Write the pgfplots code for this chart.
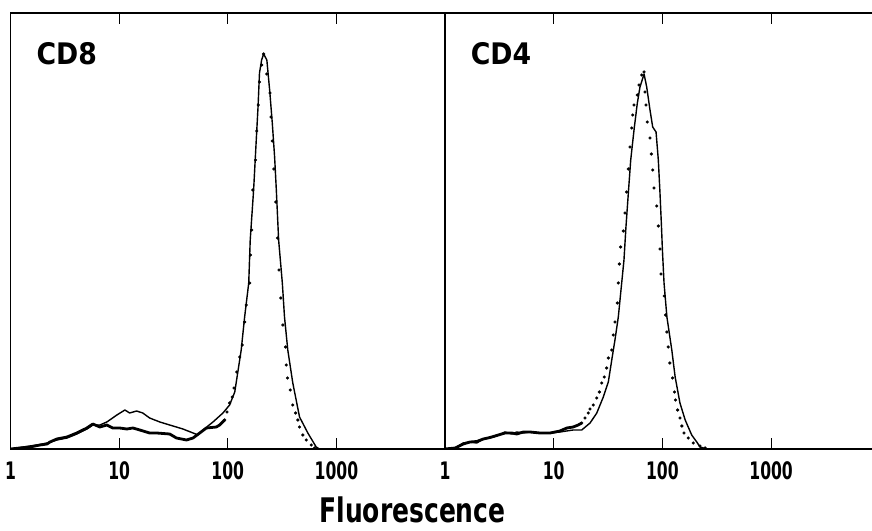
\documentclass[border=0pt]{standalone}
\usepackage{fontspec}
\setmainfont{DejaVu Sans Condensed}
\newfontfamily\tickfont[FakeStretch=0.72]{DejaVu Sans Condensed}
\newfontfamily\labfont[FakeStretch=0.82]{DejaVu Sans Condensed}
\usepackage{pgfplots}
\pgfplotsset{compat=1.18}

\tikzset{
  smpl/.style={black, line width=1.4bp, line join=round},
  ctrlline/.style={black, line width=2.8bp, line join=round},
  ctrldots/.style={black, only marks, mark=*, mark size=1.4bp},
}

\begin{document}
\begin{tikzpicture}
\useasboundingbox (0,0) rectangle (872bp,531bp);

% CD8
\begin{axis}[at={(10.5bp,82bp)}, anchor=south west,
  xmode=log, scale only axis, width=434.5bp, height=436bp,
  xmin=1, xmax=10000, ymin=0, ymax=436,
  ytick=\empty, xtick={1,10,100,1000}, xticklabels={1,10,100,1000},
  xminorticks=false,
  tick align=inside, major tick length=11bp,
  tick style={black, line width=1.2bp},
  axis line style={line width=1.5bp},
  xticklabel style={font=\tickfont\bfseries\fontsize{24.2}{24.2}\selectfont,
    anchor=base, inner sep=0pt, yshift=-30.3bp}]
\addplot[smpl] coordinates {
(1,0) (1.22,1.5) (1.51,3) (1.87,4.5) (2.17,6) (2.67,9) (3.31,11) (4.08,15)
(5.05,20) (5.73,24) (6.65,24) (7.71,27) (9.53,34) (11.3,39) (12.5,36)
(14.5,38) (16.5,36) (19.1,31) (23.7,27) (29.2,24) (38.7,20) (47.9,16)
(53.2,14) (59.2,19) (73.1,27) (90.3,36) (104,44) (116,57) (133,99)
(143,132) (156,166) (161,209) (173,259) (183,309) (190,342) (196,376)
(205,389) (214,395) (229,389) (243,359) (257,326) (270,292) (280,259)
(294,209) (318,166) (333,132) (357,99) (397,66) (458,32) (546,16)
(652,2) (699,0)
};
\addplot[ctrlline] coordinates {
(1,0) (1.22,1) (1.51,2) (1.87,4) (2.17,5) (2.31,7) (2.67,10) (3.31,12)
(4.08,16) (5.05,21) (5.73,25) (6.65,22) (7.71,24) (8.75,21) (10.1,21)
(11.8,20) (13.4,21) (15.5,19) (19.1,16) (22.1,16) (29.2,15) (33.7,11)
(41.7,9) (47.9,11) (55.2,16) (63.6,21) (78.5,22) (84.2,24) (93.6,29)
};
\addplot[ctrldots] coordinates {
(93.6,29) (98.5,37) (104,46) (110,52) (114,61) (121,77) (129,92) (136,104)
(143,127) (148,144) (159,166) (162,194) (166,219) (170,259) (180,289)
(185,318) (191,344) (196,367) (205,384) (214,395) (229,375) (245,356)
(250,332) (257,308) (266,280) (277,247) (288,211) (296,179) (308,151)
(322,124) (341,102) (346,84) (355,71) (376,59) (397,44) (421,36) (442,29)
(458,22) (491,14) (528,9) (587,4) (629,1)
};
\end{axis}

% CD4
\begin{axis}[at={(445bp,82bp)}, anchor=south west,
  xmode=log, scale only axis, width=427bp, height=436bp,
  xmin=1, xmax=8476, ymin=0, ymax=436,
  axis x line*=box, axis y line*=left,
  ytick=\empty, xtick={1,10,100,1000}, xticklabels={1,10,100,1000},
  xminorticks=false,
  tick align=inside, major tick length=11bp,
  tick style={black, line width=1.2bp},
  axis line style={line width=1.5bp},
  xticklabel style={font=\tickfont\bfseries\fontsize{24.2}{24.2}\selectfont,
    anchor=base, inner sep=0pt, yshift=-30.3bp}]
\addplot[smpl] coordinates {
(1,0) (1.24,1) (1.47,6) (1.70,7) (1.96,6) (2.25,10) (2.59,11) (2.99,13)
(3.56,17) (4.11,15) (4.57,17) (5.25,16) (6.05,17) (7.48,16) (9.25,16)
(11.4,17) (15.1,19) (18.1,19) (21.6,26) (24.9,36) (28.6,52) (31.8,67)
(34.2,89) (36.6,109) (39.3,132) (42.2,166) (44.3,189) (46.2,222)
(48.6,256) (51.1,289) (54.8,319) (58.8,346) (62.2,362) (67.8,375)
(71.7,362) (76.9,339) (81.4,322) (87.4,317) (91.7,289) (95.0,256)
(98.1,222) (100,199) (103.5,166) (110,132) (122,99) (131,72) (145,46)
(162,29) (186,14) (207,7) (222,2) (256,0)
};
\addplot[ctrlline] coordinates {
(1,0) (1.24,1) (1.47,5) (1.70,7) (1.96,7.5) (2.25,10) (2.59,11.5)
(2.99,13.5) (3.56,16) (4.11,16) (4.57,15) (5.25,17) (6.05,17) (7.48,16)
(9.25,16) (11.4,18) (13.2,21) (15.1,22) (16.8,24) (18.1,26)
};
\addplot[ctrldots] coordinates {
(18.1,26) (19.4,31) (20.8,36) (21.6,40) (23.1,44) (24.9,51) (26.3,57)
(27.7,66) (29.2,72) (30.7,81) (31.8,91) (34.2,99) (35.3,114) (36.6,127)
(38.5,146) (39.3,166) (40.2,185) (41.3,202) (43.7,218) (45.3,236)
(46.9,257) (48.6,280) (50.3,302) (52.2,321) (53.3,334) (54.8,344)
(58.8,354) (60.9,364) (64.5,374) (67.8,377) (69.2,357) (70.7,344)
(72.6,327) (76.9,311) (79.1,295) (81.4,279) (83.7,261) (88.6,243)
(91.7,223) (95.0,200) (97.1,175) (104,153) (107,134) (110,117) (113,102)
(117,86) (124,71) (129,57) (132,49) (138,39) (145,31) (151,23) (158,16)
(173,11) (192,6) (222,3) (247,1)
};
\end{axis}

\node[anchor=base, inner sep=0pt,
  font=\bfseries\fontsize{29.8}{29.8}\selectfont] at (66.7bp,466bp) {CD8};
\node[anchor=base, inner sep=0pt,
  font=\bfseries\fontsize{29.8}{29.8}\selectfont] at (501bp,466bp) {CD4};
\node[anchor=base, inner sep=0pt,
  font=\labfont\bfseries\fontsize{34}{34}\selectfont] at (412.5bp,9bp) {Fluorescence};
\end{tikzpicture}
\end{document}
